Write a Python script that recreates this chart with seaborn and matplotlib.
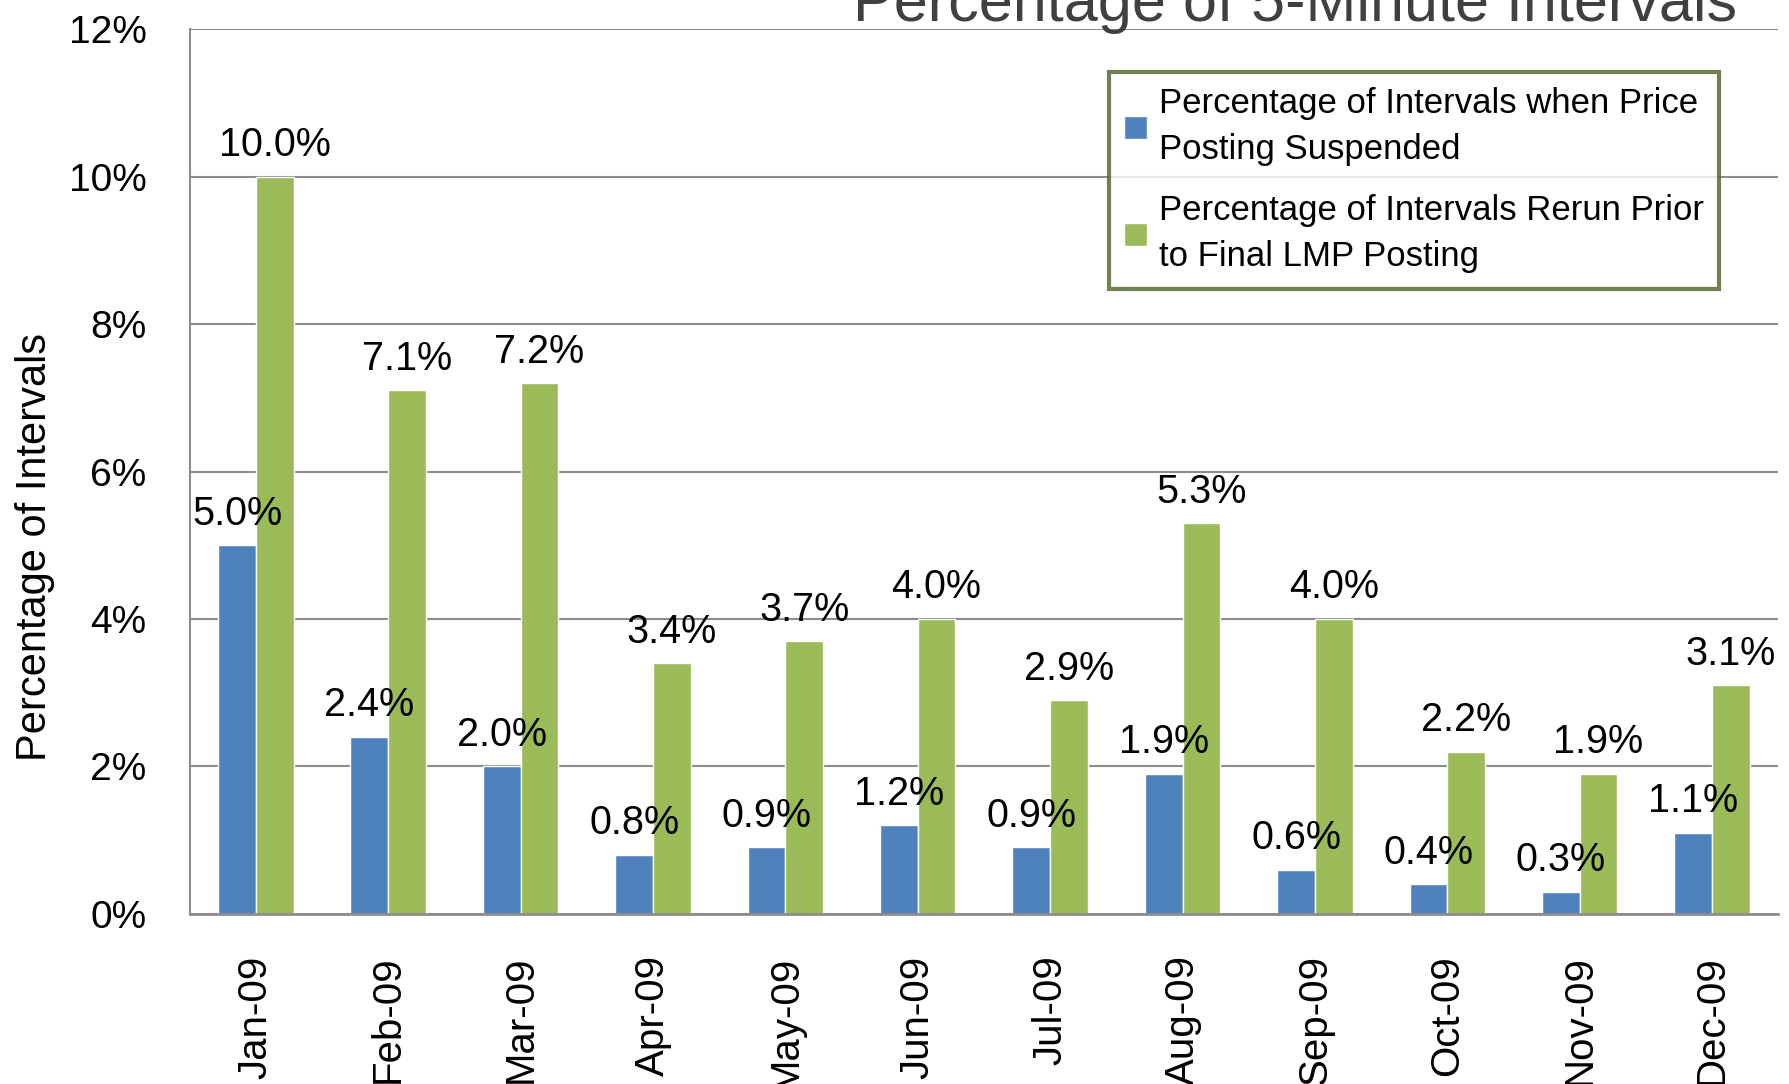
import matplotlib
matplotlib.use("Agg")
import matplotlib.pyplot as plt
import seaborn as sns
import pandas as pd
from matplotlib.ticker import FixedLocator

months = ["Jan-09", "Feb-09", "Mar-09", "Apr-09", "May-09", "Jun-09",
          "Jul-09", "Aug-09", "Sep-09", "Oct-09", "Nov-09", "Dec-09"]
suspended = [5.0, 2.4, 2.0, 0.8, 0.9, 1.2, 0.9, 1.9, 0.6, 0.4, 0.3, 1.1]
rerun = [10.0, 7.1, 7.2, 3.4, 3.7, 4.0, 2.9, 5.3, 4.0, 2.2, 1.9, 3.1]
series_names = ["Percentage of Intervals when Price\nPosting Suspended",
                "Percentage of Intervals Rerun Prior\nto Final LMP Posting"]
y_ticks = [0, 2, 4, 6, 8, 10, 12]

BLUE = "#4F81BD"
GREEN = "#9BBB59"
GRID = "#8c8c8c"

sns.set_style("white")
plt.rcParams["font.family"] = ["Liberation Sans", "DejaVu Sans"]
plt.rcParams["text.color"] = "black"

df = pd.DataFrame({
    "month": months * 2,
    "value": suspended + rerun,
    "series": [series_names[0]] * len(months) + [series_names[1]] * len(months),
})

fig = plt.figure(figsize=(17.89, 10.84), dpi=100)
ax = fig.add_axes([0.106, 0.157, 0.888, 0.816])

sns.barplot(data=df, x="month", y="value", hue="series", palette=[BLUE, GREEN],
            width=0.57, gap=0, saturation=1, ax=ax, legend=True)

# value labels above each bar
for cont, vals in zip(ax.containers, [suspended, rerun]):
    ax.bar_label(cont, labels=[f"{v:.1f}%" for v in vals], padding=9,
                 fontsize=28.5, color="black")

ax.set_ylim(0, 12)
ax.set_xlim(-0.5, 11.5)
ax.set_yticks(y_ticks)
ax.set_yticklabels([f"{t}%" for t in y_ticks], fontsize=28)
ax.yaxis.grid(True, color=GRID, linewidth=1.5)
ax.set_axisbelow(True)

ax.tick_params(axis="y", length=15, width=1.5, color=GRID, pad=16, labelcolor="black")
ax.tick_params(axis="x", which="major", length=0, pad=30, labelcolor="black")
ax.xaxis.set_minor_locator(FixedLocator([i - 0.5 for i in range(len(months) + 1)]))
ax.tick_params(axis="x", which="minor", length=15, width=1.5, color=GRID)
for lab in ax.get_xticklabels():
    lab.set_rotation(90)
    lab.set_fontsize(29)
    lab.set_va("top")

for s in ["top", "right"]:
    ax.spines[s].set_visible(False)
ax.spines["left"].set_color(GRID)
ax.spines["left"].set_linewidth(1.5)
ax.spines["bottom"].set_color(GRID)
ax.spines["bottom"].set_linewidth(2)

ax.set_xlabel("")
ax.set_ylabel("")
fig.text(0.0196, 0.495, "Percentage of Intervals", rotation=90, ha="center",
         va="center", fontsize=30, color="black")

leg = ax.legend(loc="upper right", bbox_to_anchor=(0.963, 0.952), fontsize=25,
                frameon=True, fancybox=False, handlelength=0.65, handleheight=0.65,
                handletextpad=0.35, labelspacing=0.8, borderpad=0.45,
                borderaxespad=0)
for t in leg.get_texts():
    t.set_linespacing(1.5)
    t.set_color("black")
leg.get_frame().set_edgecolor("#4F6228")
leg.get_frame().set_linewidth(3)

fig.text(0.971, 0.981, "Percentage of 5-Minute Intervals", ha="right",
         va="baseline", fontsize=44, color="#404040")

fig.savefig("out.png", dpi=100)
